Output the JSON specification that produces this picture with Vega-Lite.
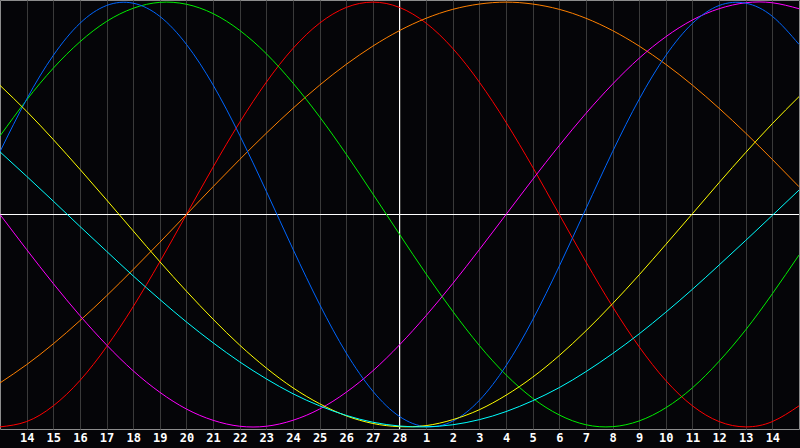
{
  "$schema": "https://vega.github.io/schema/vega-lite/v6.json",
  "width": 799,
  "height": 429,
  "autosize": {"type": "none"},
  "padding": {"left": 0, "top": 0, "right": 1, "bottom": 19},
  "background": "#050508",
  "config": {
    "view": {"stroke": "#8c8c8c", "strokeWidth": 1, "fill": "#050508"},
    "axisX": {
      "domain": false,
      "ticks": false,
      "grid": true,
      "gridColor": "#3a3a3a",
      "gridWidth": 1,
      "labelColor": "#ffffff",
      "labelFont": "DejaVu Sans Mono",
      "labelFontWeight": "bold",
      "labelFontSize": 12,
      "labelPadding": 3,
      "labelFlush": false,
      "labelOverlap": false,
      "title": null
    }
  },
  "datasets": {
    "bio": [
      {"d": 0, "Emotional": -1, "Physical": 0.296, "Intellectual": 0.370, "Intuitive": 0, "Aesthetic": 0.608, "Awareness": -0.793, "Spiritual": 0.295},
      {"d": 1, "Emotional": -0.975, "Physical": 0.543, "Intellectual": 0.539, "Intuitive": -0.165, "Aesthetic": 0.486, "Awareness": -0.707, "Spiritual": 0.180},
      {"d": 2, "Emotional": -0.901, "Physical": 0.749, "Intellectual": 0.689, "Intuitive": -0.325, "Aesthetic": 0.353, "Awareness": -0.609, "Spiritual": 0.063},
      {"d": 3, "Emotional": -0.782, "Physical": 0.900, "Intellectual": 0.813, "Intuitive": -0.476, "Aesthetic": 0.213, "Awareness": -0.500, "Spiritual": -0.056},
      {"d": 4, "Emotional": -0.623, "Physical": 0.984, "Intellectual": 0.909, "Intuitive": -0.614, "Aesthetic": 0.069, "Awareness": -0.383, "Spiritual": -0.173},
      {"d": 5, "Emotional": -0.434, "Physical": 0.995, "Intellectual": 0.971, "Intuitive": -0.736, "Aesthetic": -0.077, "Awareness": -0.259, "Spiritual": -0.289},
      {"d": 6, "Emotional": -0.223, "Physical": 0.933, "Intellectual": 0.999, "Intuitive": -0.837, "Aesthetic": -0.222, "Awareness": -0.131, "Spiritual": -0.400},
      {"d": 7, "Emotional": 0, "Physical": 0.801, "Intellectual": 0.990, "Intuitive": -0.916, "Aesthetic": -0.361, "Awareness": 0, "Spiritual": -0.506},
      {"d": 8, "Emotional": 0.223, "Physical": 0.610, "Intellectual": 0.946, "Intuitive": -0.969, "Aesthetic": -0.493, "Awareness": 0.131, "Spiritual": -0.604},
      {"d": 9, "Emotional": 0.434, "Physical": 0.373, "Intellectual": 0.867, "Intuitive": -0.997, "Aesthetic": -0.615, "Awareness": 0.259, "Spiritual": -0.694},
      {"d": 10, "Emotional": 0.623, "Physical": 0.109, "Intellectual": 0.757, "Intuitive": -0.997, "Aesthetic": -0.723, "Awareness": 0.383, "Spiritual": -0.774},
      {"d": 11, "Emotional": 0.782, "Physical": -0.163, "Intellectual": 0.619, "Intuitive": -0.969, "Aesthetic": -0.816, "Awareness": 0.500, "Spiritual": -0.844},
      {"d": 12, "Emotional": 0.901, "Physical": -0.423, "Intellectual": 0.460, "Intuitive": -0.916, "Aesthetic": -0.891, "Awareness": 0.609, "Spiritual": -0.901},
      {"d": 13, "Emotional": 0.975, "Physical": -0.652, "Intellectual": 0.284, "Intuitive": -0.837, "Aesthetic": -0.948, "Awareness": 0.707, "Spiritual": -0.946},
      {"d": 14, "Emotional": 1, "Physical": -0.832, "Intellectual": 0.097, "Intuitive": -0.736, "Aesthetic": -0.984, "Awareness": 0.793, "Spiritual": -0.978},
      {"d": 15, "Emotional": 0.975, "Physical": -0.951, "Intellectual": -0.093, "Intuitive": -0.614, "Aesthetic": -0.999, "Awareness": 0.866, "Spiritual": -0.996},
      {"d": 16, "Emotional": 0.901, "Physical": -0.999, "Intellectual": -0.280, "Intuitive": -0.476, "Aesthetic": -0.994, "Awareness": 0.924, "Spiritual": -1.000},
      {"d": 17, "Emotional": 0.782, "Physical": -0.973, "Intellectual": -0.456, "Intuitive": -0.325, "Aesthetic": -0.966, "Awareness": 0.966, "Spiritual": -0.990},
      {"d": 18, "Emotional": 0.623, "Physical": -0.875, "Intellectual": -0.617, "Intuitive": -0.165, "Aesthetic": -0.919, "Awareness": 0.991, "Spiritual": -0.966},
      {"d": 19, "Emotional": 0.434, "Physical": -0.712, "Intellectual": -0.755, "Intuitive": 0, "Aesthetic": -0.851, "Awareness": 1, "Spiritual": -0.928},
      {"d": 20, "Emotional": 0.223, "Physical": -0.496, "Intellectual": -0.865, "Intuitive": 0.165, "Aesthetic": -0.766, "Awareness": 0.991, "Spiritual": -0.877},
      {"d": 21, "Emotional": 0, "Physical": -0.243, "Intellectual": -0.944, "Intuitive": 0.325, "Aesthetic": -0.664, "Awareness": 0.966, "Spiritual": -0.815},
      {"d": 22, "Emotional": -0.223, "Physical": 0.027, "Intellectual": -0.990, "Intuitive": 0.476, "Aesthetic": -0.548, "Awareness": 0.924, "Spiritual": -0.740},
      {"d": 23, "Emotional": -0.434, "Physical": 0.296, "Intellectual": -0.999, "Intuitive": 0.614, "Aesthetic": -0.420, "Awareness": 0.866, "Spiritual": -0.655},
      {"d": 24, "Emotional": -0.623, "Physical": 0.543, "Intellectual": -0.972, "Intuitive": 0.736, "Aesthetic": -0.284, "Awareness": 0.793, "Spiritual": -0.562},
      {"d": 25, "Emotional": -0.782, "Physical": 0.749, "Intellectual": -0.910, "Intuitive": 0.837, "Aesthetic": -0.141, "Awareness": 0.707, "Spiritual": -0.460},
      {"d": 26, "Emotional": -0.901, "Physical": 0.900, "Intellectual": -0.816, "Intuitive": 0.916, "Aesthetic": 0.004, "Awareness": 0.609, "Spiritual": -0.352},
      {"d": 27, "Emotional": -0.975, "Physical": 0.984, "Intellectual": -0.691, "Intuitive": 0.969, "Aesthetic": 0.150, "Awareness": 0.500, "Spiritual": -0.238},
      {"d": 28, "Emotional": -1, "Physical": 0.995, "Intellectual": -0.543, "Intuitive": 0.997, "Aesthetic": 0.292, "Awareness": 0.383, "Spiritual": -0.122},
      {"d": 29, "Emotional": -0.975, "Physical": 0.933, "Intellectual": -0.373, "Intuitive": 0.997, "Aesthetic": 0.428, "Awareness": 0.259, "Spiritual": -0.004},
      {"d": 30, "Emotional": -0.901, "Physical": 0.801, "Intellectual": -0.191, "Intuitive": 0.969, "Aesthetic": 0.555, "Awareness": 0.131, "Spiritual": 0.115}
    ]
  },
  "layer": [
    {
      "data": {"values": [{"d": 15, "v": 0}]},
      "mark": {"type": "rule", "color": "#ffffff", "strokeWidth": 1},
      "encoding": {
        "y": {"field": "v", "type": "quantitative", "scale": {"domain": [-1.01, 1.01], "nice": false, "zero": false}, "axis": null}
      }
    },
    {
      "data": {"values": [{"d": 15, "v": 0}]},
      "mark": {"type": "rule", "color": "#ffffff", "strokeWidth": 1},
      "encoding": {
        "x": {
          "field": "d", "type": "quantitative",
          "scale": {"domain": [0, 30], "nice": false, "zero": false},
          "axis": {
            "values": [1, 2, 3, 4, 5, 6, 7, 8, 9, 10, 11, 12, 13, 14, 15, 16, 17, 18, 19, 20, 21, 22, 23, 24, 25, 26, 27, 28, 29],
            "labelExpr": "datum.value <= 15 ? datum.value + 13 : datum.value - 15"
          }
        }
      }
    },
    {
      "data": {"name": "bio"},
      "transform": [
        {"fold": ["Emotional", "Awareness", "Intellectual", "Intuitive", "Physical", "Aesthetic", "Spiritual"], "as": ["s", "v"]}
      ],
      "mark": {"type": "line", "interpolate": "natural", "strokeWidth": 1},
      "encoding": {
        "x": {
          "field": "d", "type": "quantitative",
          "scale": {"domain": [0, 30], "nice": false, "zero": false},
          "axis": {
            "values": [1, 2, 3, 4, 5, 6, 7, 8, 9, 10, 11, 12, 13, 14, 15, 16, 17, 18, 19, 20, 21, 22, 23, 24, 25, 26, 27, 28, 29],
            "labelExpr": "datum.value <= 15 ? datum.value + 13 : datum.value - 15"
          }
        },
        "y": {"field": "v", "type": "quantitative", "scale": {"domain": [-1.01, 1.01], "nice": false, "zero": false}, "axis": null},
        "color": {
          "field": "s", "type": "nominal",
          "scale": {
            "domain": ["Emotional", "Awareness", "Intellectual", "Intuitive", "Physical", "Aesthetic", "Spiritual"],
            "range": ["#ff0000", "#ff8000", "#00ee00", "#ff00ff", "#0066ff", "#ffff00", "#00ffff"]
          },
          "legend": null
        }
      }
    }
  ]
}
